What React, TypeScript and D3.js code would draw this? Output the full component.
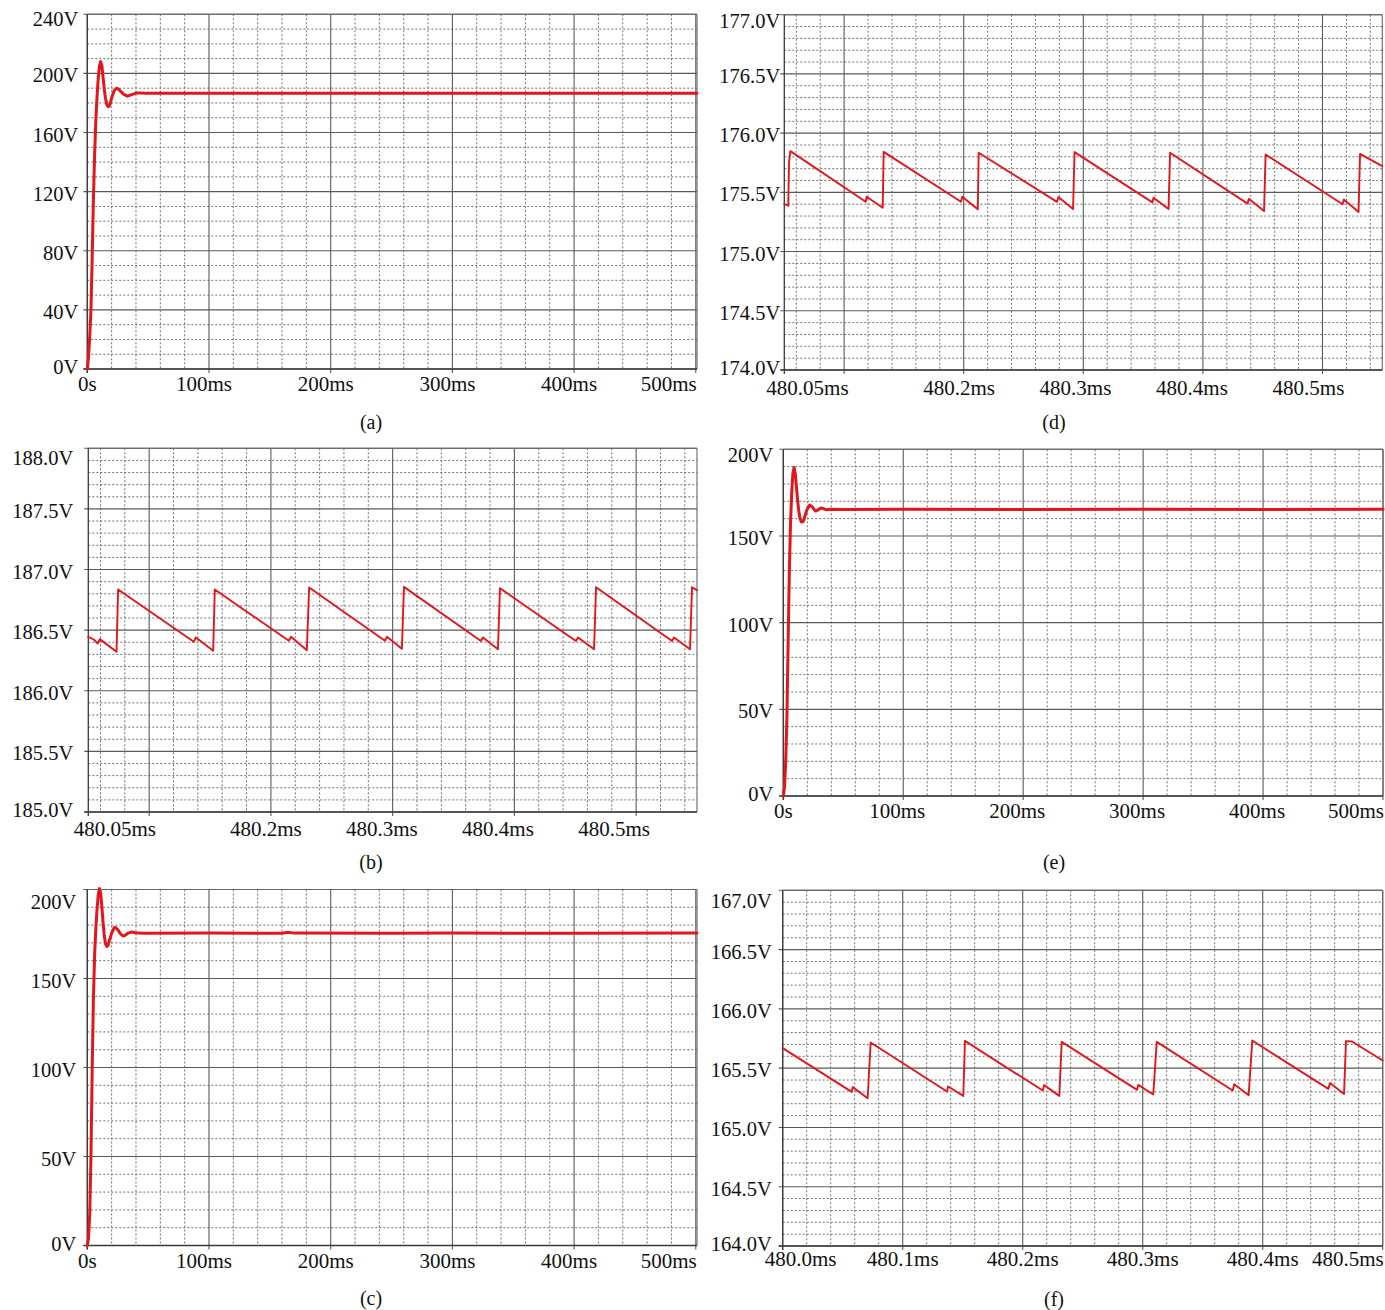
import React from "react";
import * as d3 from "d3";

type Pt = [number, number];

// ---------- data (time in ms, voltage in V) ----------

const longTicks = [0, 100, 200, 300, 400, 500];
const longTickLabels = ["0s", "100ms", "200ms", "300ms", "400ms", "500ms"];

const zoomTicksBD = [480.05, 480.2, 480.3, 480.4, 480.5];
const zoomTickLabelsBD = ["480.05ms", "480.2ms", "480.3ms", "480.4ms", "480.5ms"];

const zoomTicksF = [480.0, 480.1, 480.2, 480.3, 480.4, 480.5];
const zoomTickLabelsF = ["480.0ms", "480.1ms", "480.2ms", "480.3ms", "480.4ms", "480.5ms"];

const yTicksA = [0, 40, 80, 120, 160, 200, 240];
const yLabelsA = ["0V", "40V", "80V", "120V", "160V", "200V", "240V"];
const yTicksCE = [0, 50, 100, 150, 200];
const yLabelsCE = ["0V", "50V", "100V", "150V", "200V"];
const yTicksB = [185, 185.5, 186, 186.5, 187, 187.5, 188];
const yLabelsB = ["185.0V", "185.5V", "186.0V", "186.5V", "187.0V", "187.5V", "188.0V"];
const yTicksD = [174, 174.5, 175, 175.5, 176, 176.5, 177];
const yLabelsD = ["174.0V", "174.5V", "175.0V", "175.5V", "176.0V", "176.5V", "177.0V"];
const yTicksF = [164, 164.5, 165, 165.5, 166, 166.5, 167];
const yLabelsF = ["164.0V", "164.5V", "165.0V", "165.5V", "166.0V", "166.5V", "167.0V"];

const traceA: Pt[] = [
  [0, 0], [1, 8], [2, 22], [3, 40], [4, 75], [5, 114], [6, 145], [7, 168], [8, 184],
  [9, 197], [10, 205], [11, 208], [12, 205], [13, 197], [14, 189], [15, 183], [16, 179],
  [17, 177.6], [18, 177.8], [19, 180], [20, 183.5], [22, 188.2], [24, 190], [26, 189.2],
  [28, 187.3], [30, 185.8], [33, 184.6], [36, 185.5], [40, 186.7], [44, 186.8], [48, 186.5],
  [60, 186.6], [100, 186.5], [150, 186.6], [200, 186.5], [250, 186.6], [300, 186.5],
  [350, 186.6], [400, 186.5], [450, 186.6], [501, 186.5],
];

const traceC: Pt[] = [
  [0, 0], [1, 4], [2, 18], [3, 50], [4, 98], [5, 138], [6, 163], [7, 178], [8, 189],
  [9, 197], [10, 200.5], [11, 198], [12, 190], [13, 181], [14, 174], [15, 169.5], [16, 168],
  [17, 168.5], [18, 171], [20, 175.5], [22, 178.5], [23, 178.7], [25, 177.5], [27, 175.3],
  [29, 174], [31, 174.2], [33, 175.3], [36, 176.1], [40, 175.7], [45, 175.4], [100, 175.5],
  [160, 175.4], [165, 176], [170, 175.5], [250, 175.4], [300, 175.5], [400, 175.4], [501, 175.5],
];

const traceE: Pt[] = [
  [0, 0], [1, 5], [2, 20], [3, 45], [4, 88], [5, 128], [6, 157], [7, 175], [8, 186],
  [9, 189.5], [10, 186], [11, 178], [12, 170], [13, 164], [14, 160], [15, 158.2], [16, 158],
  [17, 159], [18, 161.5], [20, 165.5], [22, 167.8], [24, 167], [26, 165], [27, 164.4],
  [29, 165], [31, 166.1], [33, 165.9], [36, 165.1], [40, 165.4], [50, 165.3], [100, 165.4],
  [200, 165.3], [300, 165.4], [400, 165.3], [500, 165.4],
];

const traceB: Pt[] = [
  [480.047, 186.445], [480.0517, 186.423], [480.0552, 186.39], [480.0569, 186.426],
  [480.0713, 186.321], [480.0727, 186.835],
  [480.1379, 186.404], [480.1397, 186.44], [480.1546, 186.33], [480.156, 186.835],
  [480.2198, 186.412], [480.2216, 186.445], [480.2353, 186.335], [480.2373, 186.852],
  [480.3026, 186.412], [480.3043, 186.445], [480.3172, 186.346], [480.319, 186.857],
  [480.3853, 186.41], [480.3871, 186.44], [480.4, 186.343], [480.4017, 186.846],
  [480.4672, 186.41], [480.469, 186.44], [480.4828, 186.343], [480.4845, 186.854],
  [480.55, 186.41], [480.5517, 186.44], [480.5655, 186.343], [480.5672, 186.854],
  [480.5715, 186.83],
];

const traceD: Pt[] = [
  [480.05, 175.401], [480.0534, 175.387], [480.054, 175.747], [480.0552, 175.848],
  [480.1199, 175.421], [480.1207, 175.463], [480.1345, 175.37], [480.1353, 175.842],
  [480.2017, 175.421], [480.2028, 175.463], [480.2161, 175.357], [480.2169, 175.834],
  [480.2841, 175.42], [480.2853, 175.46], [480.2979, 175.359], [480.2992, 175.84],
  [480.366, 175.415], [480.367, 175.455], [480.3799, 175.359], [480.3812, 175.835],
  [480.4477, 175.405], [480.4488, 175.445], [480.4619, 175.342], [480.4632, 175.82],
  [480.5293, 175.4], [480.5304, 175.44], [480.543, 175.334], [480.5443, 175.825],
  [480.5634, 175.722],
];

const traceF: Pt[] = [
  [480.0, 165.669], [480.0575, 165.3], [480.0583, 165.34], [480.0708, 165.247], [480.0733, 165.716],
  [480.1369, 165.303], [480.1378, 165.345], [480.1505, 165.266], [480.1519, 165.73],
  [480.2167, 165.311], [480.2178, 165.357], [480.2305, 165.266], [480.2325, 165.722],
  [480.2953, 165.317], [480.2963, 165.359], [480.3088, 165.278], [480.3117, 165.722],
  [480.375, 165.311], [480.3763, 165.365], [480.3883, 165.272], [480.3913, 165.733],
  [480.4547, 165.325], [480.4561, 165.374], [480.4678, 165.283], [480.4694, 165.728],
  [480.4744, 165.725], [480.5, 165.564],
];

// ---------- layout ----------

type Grid =
  | { kind: "value"; minor: number; major: number; from: number; to: number }
  | { kind: "div"; count: number; offset: number; every: number; phase: number };

interface PanelCfg {
  id: string;
  left: number; right: number; top: number; bottom: number;
  xDomain: [number, number]; yDomain: [number, number];
  yMinor: number; yMajor: number;
  xGrid: Grid;
  xTicks: number[]; xLabels: string[];
  yTicks: number[]; yLabels: string[];
  data: Pt[];
  width: number;
  yGap: number; topShift: number; xDy: number; xDx: number;
  firstShift: boolean; lastEnd: boolean;
  cx: number; capY: number;
}

const panels: PanelCfg[] = [
  {
    id: "(a)", left: 87.3, right: 697, top: 14.3, bottom: 369,
    xDomain: [0, 501], yDomain: [0, 240], yMinor: 10, yMajor: 40,
    xGrid: { kind: "value", minor: 20, major: 100, from: 0, to: 500 },
    xTicks: longTicks, xLabels: longTickLabels, yTicks: yTicksA, yLabels: yLabelsA,
    data: traceA, width: 3, yGap: 9, topShift: 12, xDy: 22, xDx: -5, firstShift: false, lastEnd: true,
    cx: 371, capY: 429,
  },
  {
    id: "(d)", left: 784.3, right: 1382.3, top: 14.7, bottom: 370,
    xDomain: [480.05, 480.5634], yDomain: [174, 177], yMinor: 0.1, yMajor: 0.5,
    xGrid: { kind: "div", count: 25, offset: 0.5, every: 5, phase: 2 },
    xTicks: zoomTicksBD, xLabels: zoomTickLabelsBD, yTicks: yTicksD, yLabels: yLabelsD,
    data: traceD, width: 1.9, yGap: 4, topShift: 13, xDy: 25, xDx: 0, firstShift: true, lastEnd: false,
    cx: 1054, capY: 429,
  },
  {
    id: "(b)", left: 88.3, right: 697, top: 448.3, bottom: 812,
    xDomain: [480.047, 480.5715], yDomain: [185, 188], yMinor: 0.1, yMajor: 0.5,
    xGrid: { kind: "div", count: 25, offset: 0.5, every: 5, phase: 2 },
    xTicks: zoomTicksBD, xLabels: zoomTickLabelsBD, yTicks: yTicksB, yLabels: yLabelsB,
    data: traceB, width: 1.9, yGap: 15, topShift: 17, xDy: 24, xDx: 0, firstShift: true, lastEnd: false,
    cx: 371, capY: 869,
  },
  {
    id: "(e)", left: 783.3, right: 1383, top: 449.3, bottom: 796,
    xDomain: [0, 500], yDomain: [0, 200], yMinor: 10, yMajor: 50,
    xGrid: { kind: "value", minor: 20, major: 100, from: 0, to: 500 },
    xTicks: longTicks, xLabels: longTickLabels, yTicks: yTicksCE, yLabels: yLabelsCE,
    data: traceE, width: 3, yGap: 10, topShift: 13, xDy: 22, xDx: -6, firstShift: false, lastEnd: true,
    cx: 1054, capY: 869,
  },
  {
    id: "(c)", left: 87.3, right: 697, top: 889.5, bottom: 1245.5,
    xDomain: [0, 501], yDomain: [0, 200], yMinor: 10, yMajor: 50,
    xGrid: { kind: "value", minor: 20, major: 100, from: 0, to: 500 },
    xTicks: longTicks, xLabels: longTickLabels, yTicks: yTicksCE, yLabels: yLabelsCE,
    data: traceC, width: 3, yGap: 11, topShift: 19, xDy: 22.5, xDx: -5, firstShift: false, lastEnd: true,
    cx: 371, capY: 1305,
  },
  {
    id: "(f)", left: 782.7, right: 1382.7, top: 890.3, bottom: 1246,
    xDomain: [480.0, 480.5], yDomain: [164, 167], yMinor: 0.1, yMajor: 0.5,
    xGrid: { kind: "value", minor: 0.02, major: 0.1, from: 480.0, to: 480.5 },
    xTicks: zoomTicksF, xLabels: zoomTickLabelsF, yTicks: yTicksF, yLabels: yLabelsF,
    data: traceF, width: 1.9, yGap: 11, topShift: 18, xDy: 20, xDx: 0, firstShift: true, lastEnd: true,
    cx: 1054, capY: 1306,
  },
];

const RED = "#e3161c";
const MINOR = "#707070";
const MAJOR = "#5a5a5a";
const FONT = "'Liberation Serif', 'Times New Roman', serif";

function steps(from: number, to: number, step: number) {
  const n = Math.round((to - from) / step);
  return d3.range(n + 1).map((i) => from + i * step);
}

function Panel({ p }: { p: PanelCfg }) {
  const x = d3.scaleLinear().domain(p.xDomain).range([p.left, p.right]);
  const y = d3.scaleLinear().domain(p.yDomain).range([p.bottom, p.top]);
  const line = d3.line<Pt>().x((d) => x(d[0])).y((d) => y(d[1]));

  const yMinors = steps(p.yDomain[0], p.yDomain[1], p.yMinor);
  const ratio = Math.round(p.yMajor / p.yMinor);

  const xMinorPos: number[] = [];
  const xMajorPos: number[] = [];
  const g = p.xGrid;
  if (g.kind === "value") {
    const mins = steps(g.from, g.to, g.minor);
    const r = Math.round(g.major / g.minor);
    mins.forEach((v, i) => {
      if (i % r === 0) xMajorPos.push(x(v));
      else xMinorPos.push(x(v));
    });
  } else {
    const dv = d3.scaleLinear().domain([0, g.count]).range([p.left, p.right]);
    d3.range(g.count).forEach((i) => {
      if (i % g.every === g.phase) xMajorPos.push(dv(i + g.offset));
      else xMinorPos.push(dv(i + g.offset));
    });
  }

  const n = p.xTicks.length;

  return (
    <g>
      {/* minor grid */}
      {yMinors.map((v, i) =>
        i % ratio !== 0 ? (
          <line key={"ym" + i} x1={p.left} x2={p.right} y1={y(v)} y2={y(v)}
            stroke={MINOR} strokeWidth={1} strokeDasharray="2,2" />
        ) : null
      )}
      {xMinorPos.map((px, i) => (
        <line key={"xm" + i} x1={px} x2={px} y1={p.top} y2={p.bottom}
          stroke={MINOR} strokeWidth={1} strokeDasharray="2,2" />
      ))}
      {/* major grid */}
      {yMinors.map((v, i) =>
        i % ratio === 0 ? (
          <line key={"yM" + i} x1={p.left - 4} x2={p.right} y1={y(v)} y2={y(v)}
            stroke={MAJOR} strokeWidth={1.1} />
        ) : null
      )}
      {xMajorPos.map((px, i) => (
        <line key={"xM" + i} x1={px} x2={px} y1={p.top} y2={p.bottom + 4}
          stroke={MAJOR} strokeWidth={1.1} />
      ))}
      {/* frame */}
      <line x1={p.left} x2={p.right} y1={p.top} y2={p.top} stroke="#666" strokeWidth={1.1} />
      <line x1={p.right} x2={p.right} y1={p.top} y2={p.bottom} stroke="#666" strokeWidth={1.1} />
      <line x1={p.left} x2={p.left} y1={p.top} y2={p.bottom + 4} stroke="#3a3a3a" strokeWidth={1.3} />
      <line x1={p.left - 4} x2={p.right} y1={p.bottom} y2={p.bottom} stroke="#3a3a3a" strokeWidth={1.3} />

      {/* trace */}
      <path d={line(p.data) || ""} fill="none" stroke={RED} strokeWidth={p.width}
        strokeLinejoin="round" strokeLinecap="round" />

      {/* y labels */}
      {p.yTicks.map((v, i) => {
        const last = i === p.yTicks.length - 1;
        const dy = i === 0 ? 5 : last ? p.topShift : 9;
        return (
          <text key={"yl" + i} x={p.left - p.yGap} y={y(v) + dy} textAnchor="end"
            fontFamily={FONT} fontSize={20.5} fill="#111">
            {p.yLabels[i]}
          </text>
        );
      })}
      {/* x labels */}
      {p.xTicks.map((v, i) => {
        let px = x(v);
        let anchor: "start" | "middle" | "end" = "middle";
        if (i === 0 && p.firstShift) {
          anchor = "start";
          px = px - 18;
        } else if (i === n - 1 && p.lastEnd) {
          anchor = "end";
          px = Math.min(px, p.right) + 1;
        } else if (i > 0) {
          px = px + p.xDx;
        }
        return (
          <text key={"xl" + i} x={px} y={p.bottom + p.xDy} textAnchor={anchor}
            fontFamily={FONT} fontSize={21} fill="#111">
            {p.xLabels[i]}
          </text>
        );
      })}
      {/* caption */}
      <text x={p.cx} y={p.capY} textAnchor="middle" fontFamily={FONT} fontSize={20} fill="#111">
        {p.id}
      </text>
    </g>
  );
}

export default function App() {
  return (
    <svg width={1385} height={1310} viewBox="0 0 1385 1310"
      style={{ position: "absolute", left: 0, top: 0, background: "#fff" }}>
      <rect width={1385} height={1310} fill="#fff" />
      {panels.map((p) => (
        <Panel key={p.id} p={p} />
      ))}
    </svg>
  );
}
